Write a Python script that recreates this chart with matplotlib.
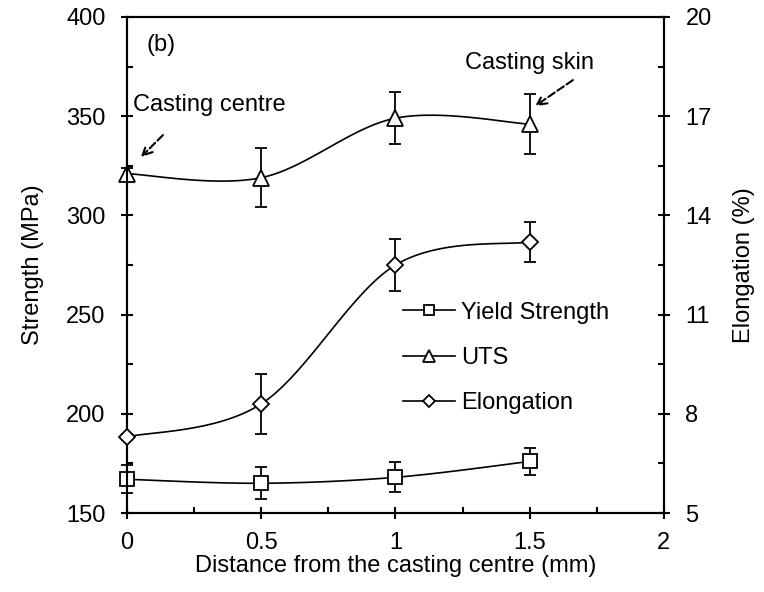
import numpy as np
import matplotlib
matplotlib.use('Agg')
import matplotlib.pyplot as plt
from matplotlib.lines import Line2D
from matplotlib.ticker import MultipleLocator, FixedLocator

plt.rcParams['font.family'] = ['Liberation Sans', 'DejaVu Sans']
plt.rcParams['font.size'] = 17

# data
dist = [0, 0.5, 1, 1.5]
ys = [167, 165, 168, 176]
ys_err = [7, 8, 7.5, 7]
uts = [321, 319, 349, 346]
uts_err = [3, 15, 13, 15]
elong = [7.3, 8.3, 12.5, 13.2]
elong_err = [0.1, 0.9, 0.8, 0.6]
elong_ticks = [5, 8, 11, 14, 17, 20]


def smooth(x, y, n=40):
    # catmull-rom like excel smoothed line
    x = np.asarray(x, float)
    y = np.asarray(y, float)
    px = np.concatenate([[x[0]], x, [x[-1]]])
    py = np.concatenate([[y[0]], y, [y[-1]]])
    xs, yy = [], []
    t = np.linspace(0, 1, n)
    for i in range(1, len(px) - 2):
        x0, x1, x2, x3 = px[i - 1:i + 3]
        y0, y1, y2, y3 = py[i - 1:i + 3]
        # bezier control points
        cx1 = x1 + (x2 - x0) / 6
        cy1 = y1 + (y2 - y0) / 6
        cx2 = x2 - (x3 - x1) / 6
        cy2 = y2 - (y3 - y1) / 6
        b0 = (1 - t) ** 3
        b1 = 3 * (1 - t) ** 2 * t
        b2 = 3 * (1 - t) * t ** 2
        b3 = t ** 3
        xs.append(b0 * x1 + b1 * cx1 + b2 * cx2 + b3 * x2)
        yy.append(b0 * y1 + b1 * cy1 + b2 * cy2 + b3 * y2)
    return np.concatenate(xs), np.concatenate(yy)


fig = plt.figure(figsize=(7.64, 5.92), dpi=100)
ax = fig.add_axes([0.1662, 0.1334, 0.7028, 0.8379])
ax2 = ax.twinx()

lw = 1.2
mk = dict(markerfacecolor='white', markeredgecolor='black', markeredgewidth=1.3,
          linestyle='none', zorder=5, clip_on=False)
eb = dict(fmt='none', ecolor='black', elinewidth=1.3, capsize=4.5, capthick=1.3)

sx, sy = smooth(dist, ys)
ax.plot(sx, sy, color='black', lw=lw)
e = ax.errorbar(dist, ys, yerr=ys_err, **eb)
ax.plot(dist, ys, marker='s', markersize=10.5, **mk)

sx, sy = smooth(dist, uts)
ax.plot(sx, sy, color='black', lw=lw)
e2 = ax.errorbar(dist, uts, yerr=uts_err, **eb)
ax.plot(dist, uts, marker='^', markersize=11, **mk)

sx, sy = smooth(dist, elong)
ax2.plot(sx, sy, color='black', lw=lw, clip_on=False)
e3 = ax2.errorbar(dist, elong, yerr=elong_err, **eb)
ax2.plot(dist, elong, marker='D', markersize=8.5, **mk)

for c in (e, e2, e3):
    for art in c.lines[1] + c.lines[2]:
        art.set_clip_on(False)

ax.set_xlim(0, 2)
ax.set_ylim(150, 400)
ax2.set_ylim(5, 20)
ax.set_xticks([0, 0.5, 1, 1.5, 2])
ax.set_xticklabels(['0', '0.5', '1', '1.5', '2'])
ax.xaxis.set_minor_locator(MultipleLocator(0.25))
ax.yaxis.set_major_locator(MultipleLocator(50))
ax.yaxis.set_minor_locator(MultipleLocator(25))
ax2.yaxis.set_major_locator(FixedLocator(elong_ticks))
ax2.yaxis.set_minor_locator(FixedLocator([v + 1.5 for v in elong_ticks[:-1]]))

for a in (ax, ax2):
    for s in a.spines.values():
        s.set_linewidth(1.5)
    a.tick_params(which='major', direction='inout', length=9, width=1.5, labelsize=17)
    a.tick_params(which='minor', direction='in', length=4, width=1.5)
ax.tick_params(axis='x', which='major', pad=9)
ax.tick_params(axis='y', which='major', pad=11)
ax2.tick_params(axis='y', which='major', pad=11)
ax.tick_params(top=False, which='both')

ax.set_xlabel('Distance from the casting centre (mm)', fontsize=17, labelpad=1)
ax.set_ylabel('Strength (MPa)', fontsize=17, labelpad=16)
ax2.set_ylabel('Elongation (%)', fontsize=17, labelpad=15)

ax.text(0.074, 386, '(b)', fontsize=17, va='center')
ax.text(0.022, 355.6, 'Casting centre', fontsize=17, va='center')
ax.annotate('', xy=(0.052, 329.4), xytext=(0.134, 340.5),
            arrowprops=dict(arrowstyle='->', linestyle='--', lw=1.5, color='black',
                            shrinkA=0, shrinkB=0))
ax.text(1.259, 376.8, 'Casting skin', fontsize=17, va='center')
ax.annotate('', xy=(1.52, 355.1), xytext=(1.661, 368.2),
            arrowprops=dict(arrowstyle='->', linestyle='--', lw=1.5, color='black',
                            shrinkA=0, shrinkB=0))

handles = [
    Line2D([], [], color='black', lw=lw, marker='s', markersize=7.5,
           markerfacecolor='white', markeredgecolor='black', markeredgewidth=1.3),
    Line2D([], [], color='black', lw=lw, marker='^', markersize=8,
           markerfacecolor='white', markeredgecolor='black', markeredgewidth=1.3),
    Line2D([], [], color='black', lw=lw, marker='D', markersize=6,
           markerfacecolor='white', markeredgecolor='black', markeredgewidth=1.3),
]
ax.legend(handles, ['Yield Strength', 'UTS', 'Elongation'], loc='upper left',
          bbox_to_anchor=(0.514, 0.426), frameon=False, fontsize=17,
          handlelength=2.2, handletextpad=0.25, labelspacing=0.98,
          borderpad=0, borderaxespad=0)

fig.savefig('out.png', dpi=100)
